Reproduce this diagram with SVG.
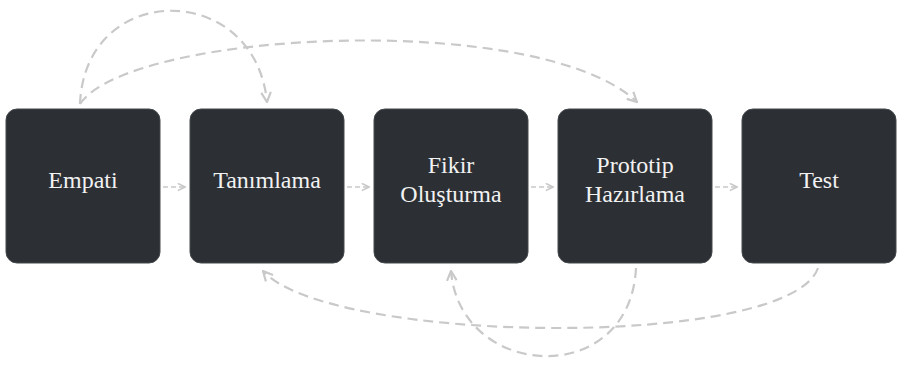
<svg xmlns="http://www.w3.org/2000/svg" width="904" height="366" viewBox="0 0 904 366">
<style>
.box{fill:#2c3035;stroke:#44484d;stroke-width:1}
.lbl{font-family:"Liberation Serif","Times New Roman",serif;font-size:24px;fill:#f2f2f2;text-anchor:middle}
.arc{fill:none;stroke:#c9c9c9;stroke-width:2.2;stroke-dasharray:10,6;marker-end:url(#ah)}
.step{fill:none;stroke:#c9c9c9;stroke-width:1.6;stroke-dasharray:5,3;marker-end:url(#ahs)}
</style>
<defs>
<marker id="ah" viewBox="0 0 10 10" refX="9" refY="5" markerWidth="12" markerHeight="12" markerUnits="userSpaceOnUse" orient="auto">
<path d="M1,1 L9,5 L1,9" fill="none" stroke="#c9c9c9" stroke-width="1.8"/>
</marker>
<marker id="ahs" viewBox="0 0 10 10" refX="9" refY="5" markerWidth="9" markerHeight="9" markerUnits="userSpaceOnUse" orient="auto">
<path d="M1,1 L9,5 L1,9" fill="none" stroke="#c9c9c9" stroke-width="1.8"/>
</marker>
</defs>
<rect width="904" height="366" fill="#ffffff"/>
<g id="connectors">
<path class="step" d="M163,187 H185"/>
<path class="step" d="M347,187 H369"/>
<path class="step" d="M531,187 H553"/>
<path class="step" d="M715,187 H737"/>
<path class="arc" d="M80,104 C85,-20 255,-20 267,102"/>
<path class="arc" d="M80,104 C130,30 540,10 637,102"/>
<path class="arc" d="M818,268 C790,350 330,345 263,271"/>
<path class="arc" d="M636,268 C630,390 460,380 451,271"/>
</g>
<g id="empati">
<rect class="box" x="6" y="109" width="154" height="154" rx="11"/>
<text class="lbl" x="83" y="188">Empati</text>
</g>
<g id="tanimlama">
<rect class="box" x="190" y="109" width="154" height="154" rx="11"/>
<text class="lbl" x="267" y="188">Tanımlama</text>
</g>
<g id="fikir">
<rect class="box" x="374" y="109" width="154" height="154" rx="11"/>
<text class="lbl" x="451" y="173">Fikir</text>
<text class="lbl" x="451" y="202">Oluşturma</text>
</g>
<g id="prototip">
<rect class="box" x="558" y="109" width="154" height="154" rx="11"/>
<text class="lbl" x="635" y="173">Prototip</text>
<text class="lbl" x="635" y="202">Hazırlama</text>
</g>
<g id="test">
<rect class="box" x="742" y="109" width="154" height="154" rx="11"/>
<text class="lbl" x="819" y="188">Test</text>
</g>
</svg>
